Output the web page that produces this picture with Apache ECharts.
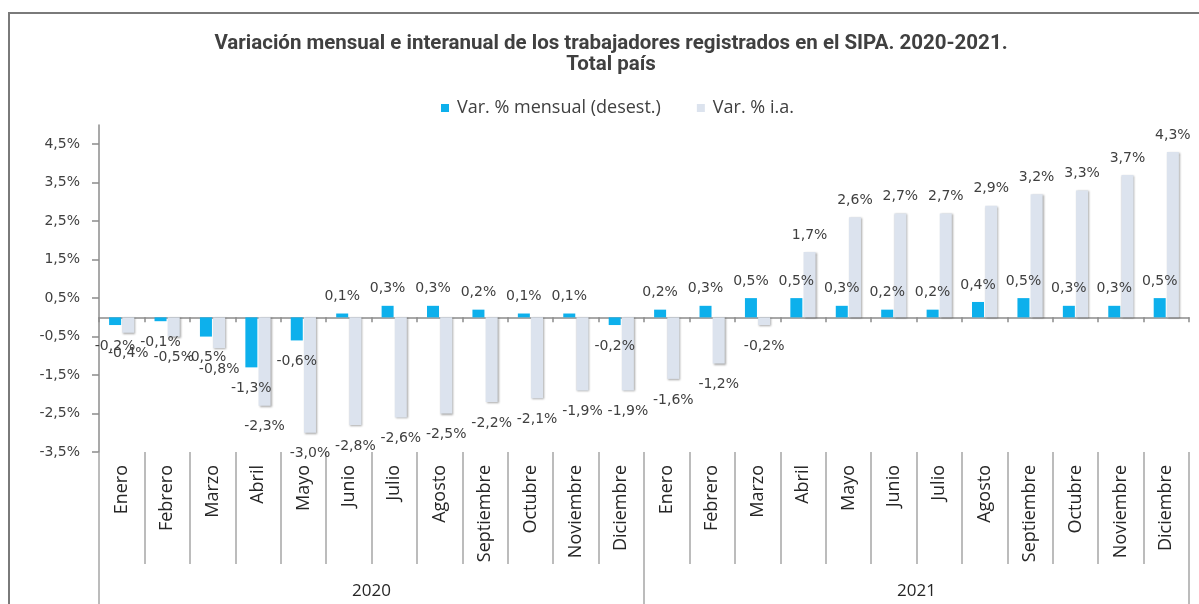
<!DOCTYPE html>
<html lang="es">
<head>
  <meta charset="UTF-8">
  <title>Trabajadores registrados en el SIPA</title>
  <script src="https://cdn.jsdelivr.net/npm/echarts@6/dist/echarts.min.js"></script>
  <style>
    body { margin: 0; background: #fff; }
    #main { width: 1199px; height: 604px; }
    #frame { position: absolute; left: 8px; top: 12px; width: 1199px; height: 600px;
             border-left: 2px solid #7a7a7a; border-top: 2px solid #7a7a7a; pointer-events: none; }
  </style>
</head>
<body>
<div id="main"></div>
<div id="frame"></div>
<script>
  // meses (dos años) y años
  var meses = ['Enero', 'Febrero', 'Marzo', 'Abril', 'Mayo', 'Junio', 'Julio', 'Agosto', 'Septiembre', 'Octubre', 'Noviembre', 'Diciembre',
               'Enero', 'Febrero', 'Marzo', 'Abril', 'Mayo', 'Junio', 'Julio', 'Agosto', 'Septiembre', 'Octubre', 'Noviembre', 'Diciembre'];
  var anios = ['2020', '2021'];

  // Var. % mensual (desest.)
  var varMensual = [-0.2, -0.1, -0.5, -1.3, -0.6, 0.1, 0.3, 0.3, 0.2, 0.1, 0.1, -0.2,
                    0.2, 0.3, 0.5, 0.5, 0.3, 0.2, 0.2, 0.4, 0.5, 0.3, 0.3, 0.5];
  // Var. % i.a.
  var varInteranual = [-0.4, -0.5, -0.8, -2.3, -3.0, -2.8, -2.6, -2.5, -2.2, -2.1, -1.9, -1.9,
                       -1.6, -1.2, -0.2, 1.7, 2.6, 2.7, 2.7, 2.9, 3.2, 3.3, 3.7, 4.3];

  // marcas del eje vertical
  var yTicks = [-3.5, -2.5, -1.5, -0.5, 0.5, 1.5, 2.5, 3.5, 4.5];

  var textColor = '#404040';
  var axisColor = '#8c8c8c';

  function pct(v) {
    return v.toFixed(1).replace('.', ',') + '%';
  }

  // etiqueta arriba si es positivo, abajo si es negativo
  function conEtiqueta(arr) {
    return arr.map(function (v) {
      return {
        value: v,
        label: { position: v >= 0 ? 'top' : 'bottom', distance: v >= 0 ? 10 : 14 }
      };
    });
  }

  var labelStyle = {
    show: true,
    fontFamily: 'DejaVu Sans',
    fontSize: 14,
    color: textColor,
    formatter: function (p) { return pct(p.value); }
  };

  var myChart = echarts.init(document.getElementById('main'));

  myChart.setOption({
    animation: false,
    backgroundColor: '#ffffff',
    title: {
      text: 'Variación mensual e interanual de los trabajadores registrados en el SIPA. 2020-2021.\nTotal país',
      left: 611,
      top: 33,
      textAlign: 'center',
      padding: 0,
      textStyle: {
        fontFamily: 'Roboto',
        fontWeight: 'bold',
        fontSize: 20.5,
        lineHeight: 21,
        color: textColor
      }
    },
    legend: {
      top: 99,
      left: 441,
      padding: 0,
      icon: 'rect',
      itemWidth: 8,
      itemHeight: 8,
      itemGap: 36,
      textStyle: {
        fontFamily: 'Open Sans',
        fontSize: 18,
        color: textColor,
        padding: [0, 0, 0, 3]
      },
      data: ['Var. % mensual (desest.)', 'Var. % i.a.']
    },
    grid: {
      left: 99,
      right: 10,
      top: 125,
      bottom: 152,
      outerBoundsMode: 'none'
    },
    yAxis: {
      type: 'value',
      min: -3.5,
      max: 5,
      interval: 0.5,
      splitLine: { show: false },
      axisLine: { show: true, lineStyle: { color: axisColor, width: 1.5 } },
      axisTick: { show: true, length: 7, customValues: yTicks, lineStyle: { color: axisColor, width: 1.5 } },
      axisLabel: {
        customValues: yTicks,
        margin: 19,
        fontFamily: 'DejaVu Sans',
        fontSize: 14,
        color: textColor,
        formatter: function (v) { return pct(v); }
      }
    },
    xAxis: [
      {
        // eje en el cero
        type: 'category',
        data: meses,
        position: 'bottom',
        axisLine: { onZero: true, lineStyle: { color: axisColor, width: 1.5 } },
        axisTick: { show: true, length: 5, interval: 0, lineStyle: { color: axisColor, width: 1.5 } },
        axisLabel: { show: false },
        splitLine: { show: false }
      },
      {
        // meses
        type: 'category',
        data: meses,
        position: 'bottom',
        axisLine: { show: false, onZero: false },
        axisTick: { show: true, length: 112, interval: 0, lineStyle: { color: '#a6a6a6', width: 1.5 } },
        axisLabel: {
          interval: 0,
          rotate: 90,
          margin: 13,
          fontFamily: 'Open Sans',
          fontSize: 18,
          color: '#262626'
        },
        splitLine: { show: false }
      },
      {
        // años
        type: 'category',
        data: anios,
        position: 'bottom',
        offset: 112,
        axisLine: { show: false, onZero: false },
        axisTick: { show: true, length: 40, interval: 0, lineStyle: { color: '#a6a6a6', width: 1.5 } },
        axisLabel: {
          interval: 0,
          margin: 19,
          fontFamily: 'Open Sans',
          fontSize: 17,
          color: '#262626'
        },
        splitLine: { show: false }
      }
    ],
    series: [
      {
        name: 'Var. % mensual (desest.)',
        type: 'bar',
        xAxisIndex: 0,
        barWidth: 12,
        barGap: '10%',
        itemStyle: { color: '#0db0ec' },
        label: labelStyle,
        data: conEtiqueta(varMensual)
      },
      {
        name: 'Var. % i.a.',
        type: 'bar',
        xAxisIndex: 0,
        barWidth: 12,
        itemStyle: {
          color: '#dce3ee',
          shadowColor: 'rgba(0,0,0,0.35)',
          shadowBlur: 2,
          shadowOffsetX: 1,
          shadowOffsetY: 1
        },
        label: labelStyle,
        data: conEtiqueta(varInteranual)
      }
    ]
  });
</script>
</body>
</html>
